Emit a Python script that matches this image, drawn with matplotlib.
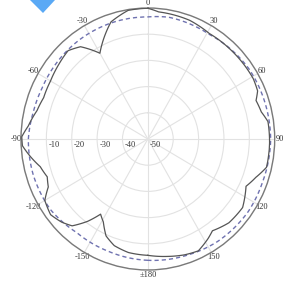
import numpy as np
import matplotlib
matplotlib.use("Agg")
import matplotlib.pyplot as plt
from matplotlib.patches import Polygon

# measured pattern (angle in degrees, level in dB)
solid_deg = [-180, -170, -162, -156, -151, -147, -143, -138, -133, -127, -120,
             -115, -110, -104, -98, -93, -89, -84, -76, -69, -60, -51, -43,
             -37, -30, -18, -9, 0, 5, 20, 31, 45, 61, 67, 71, 77, 82, 92,
             103, 109, 115, 125, 135, 144, 148, 155, 162, 170, 180]
solid_db = [-5.6, -6.0, -7.2, -9.5, -13.8, -15.8, -10.7, -5.4, -3.5, -2.0, -3.1,
            -6.7, -7.8, -6.3, -3.1, -0.5, -0.3, -2.6, -5.0, -6.0, -5.7, -4.8, -3.9,
            -5.9, -12.2, -3.0, -0.3, -0.1, -1.3, -1.8, -3.0, -2.8, -2.5, -3.0, -4.9,
            -4.1, -2.2, -2.0, -2.0, -5.0, -7.3, -4.4, -4.8, -6.7, -5.2, -2.9, -3.5,
            -4.5, -5.6]

dash_deg = [-180, -160, -142, -125, -107, -90, -77, -65, -48, -33, -15, 0,
            10, 31, 56, 73, 90, 110, 125, 145, 160, 180]
dash_db = [-3.7, -4.4, -4.6, -3.1, -2.8, -2.9, -3.7, -4.0, -3.7, -3.5, -3.4, -3.4,
           -2.8, -3.3, -2.0, -1.8, -1.6, -1.9, -1.7, -2.2, -3.0, -3.7]

theta_ticks = [0, 30, 60, 90, 120, 150, 180, 210, 240, 270, 300, 330]
theta_labels = ["0", "30", "60", "90", "120", "150", "\u00b1180",
                "-150", "-120", "-90", "-60", "-30"]
r_ticks = [-40, -30, -20, -10, 0]
r_labels = [-10, -20, -30, -40, -50]

plt.rcParams["font.family"] = ["Liberation Serif", "DejaVu Serif"]

fig = plt.figure(figsize=(2.98, 2.84), dpi=100)
ax = fig.add_axes([21 / 298, 14 / 284, 253.7 / 298, 262 / 284], projection="polar")
ax.set_aspect("auto")
ax.set_theta_zero_location("N")
ax.set_theta_direction(-1)
ax.set_ylim(-50, 0)

ax.set_rticks(r_ticks)
ax.set_yticklabels([])
ax.set_thetagrids(theta_ticks, theta_labels)
ax.tick_params(axis="x", pad=-7, labelsize=6, colors="#333333")
ax.grid(True, color="#e2e2e2", linewidth=0.8)
ax.spines["polar"].set_color("#7a7a7a")
ax.spines["polar"].set_linewidth(1.0)

dash_line, = ax.plot(np.deg2rad(dash_deg), dash_db, color="#6f72b0", linewidth=1.0,
                     linestyle=(0, (3, 2.2)), zorder=3)
solid_line, = ax.plot(np.deg2rad(solid_deg), solid_db, color="#555555",
                      linewidth=0.9, zorder=4)
# draw segments as arcs in polar space
for ln in (dash_line, solid_line):
    ln.get_path()._interpolation_steps = 16

# radial labels along the left horizontal
for v in r_labels:
    ax.annotate(str(v), xy=(np.deg2rad(-90), v), xytext=(1.5, -1.5),
                textcoords="offset points", ha="left", va="top",
                fontsize=6, color="#333333")

# blue marker at the top-left corner
fig.add_artist(Polygon([[30, 284], [55, 284], [43, 271]], closed=True,
                       transform=None, facecolor="#5aa9f5", edgecolor="none"))

fig.savefig("out.png", dpi=100)
